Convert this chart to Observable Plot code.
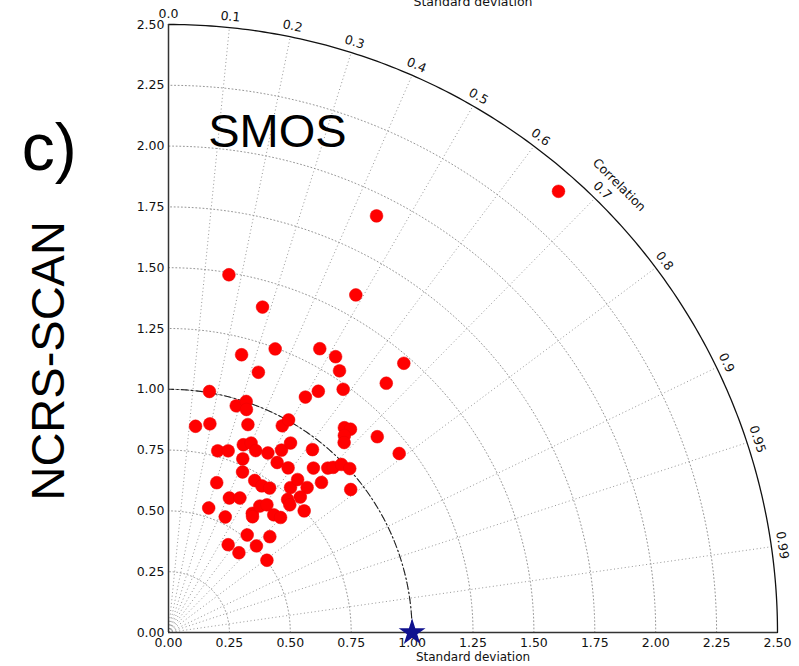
<!DOCTYPE html>
<html>
<head>
<meta charset="utf-8">
<script src="https://cdn.jsdelivr.net/npm/d3@7"></script>
<script src="https://cdn.jsdelivr.net/npm/@observablehq/plot@0.6"></script>
<style>
  html, body { margin: 0; padding: 0; background: #fff; }
  #chart svg { display: block; }
</style>
</head>
<body>
<div id="chart"></div>
<script>
// Model points (x = std*corr, y = std*sqrt(1-corr^2))
const pointX = [1.601,0.854,0.248,0.386,0.769,0.300,0.438,0.621,0.686,0.702,0.966,0.894,0.369,0.168,0.615,0.717,0.562,0.278,0.319,0.320,0.111,0.170,0.326,0.467,0.493,0.722,0.747,0.722,0.721,0.857,0.947,0.202,0.245,0.307,0.339,0.358,0.305,0.408,0.446,0.464,0.501,0.591,0.491,0.595,0.654,0.676,0.710,0.744,0.304,0.198,0.354,0.383,0.415,0.501,0.530,0.569,0.628,0.748,0.250,0.293,0.489,0.498,0.541,0.165,0.233,0.344,0.345,0.375,0.404,0.432,0.460,0.557,0.323,0.416,0.245,0.361,0.289,0.404];
const pointY = [1.814,1.713,1.471,1.338,1.388,1.142,1.166,1.167,1.134,1.076,1.107,1.025,1.070,0.991,0.992,1.000,0.968,0.932,0.950,0.917,0.848,0.858,0.855,0.850,0.874,0.842,0.836,0.810,0.781,0.805,0.736,0.747,0.747,0.772,0.779,0.748,0.714,0.738,0.699,0.750,0.779,0.752,0.677,0.676,0.676,0.679,0.691,0.674,0.660,0.616,0.625,0.603,0.594,0.596,0.629,0.596,0.617,0.588,0.553,0.553,0.547,0.525,0.557,0.512,0.475,0.490,0.476,0.520,0.525,0.484,0.473,0.500,0.401,0.394,0.361,0.356,0.328,0.297];

// Reference point
const refStd = [1.0];

// Tick labels
const sdTicks = [0,0.25,0.5,0.75,1.0,1.25,1.5,1.75,2.0,2.25,2.5];
const corrTicks = [0,0.1,0.2,0.3,0.4,0.5,0.6,0.7,0.8,0.9,0.95,0.99];
const corrTickLabels = ["0.0","0.1","0.2","0.3","0.4","0.5","0.6","0.7","0.8","0.9","0.95","0.99"];
const gridRadii = [0.25,0.5,0.75,1.0,1.25,1.5,1.75,2.0,2.25];
const maxStd = 2.5;

const points = pointX.map((x, i) => ({x, y: pointY[i]}));

// arc geometry helpers
const angles = d3.range(0, 90.5, 0.5).map(a => a * Math.PI / 180);
const arcPts = (radii) => radii.flatMap(r => angles.map(a => ({r, x: r * Math.cos(a), y: r * Math.sin(a)})));
const gridArcs = arcPts(gridRadii);
const outerArc = arcPts([maxStd]);
const refArc = arcPts(refStd);

const radial = corrTicks.filter(c => c > 0).map(c => ({c, x2: maxStd * c, y2: maxStd * Math.sqrt(1 - c * c)}));
const labelR = 2.545;
const corrLabels = corrTicks.map((c, i) => ({
  text: corrTickLabels[i],
  x: labelR * c,
  y: labelR * Math.sqrt(1 - c * c),
  rot: 90 - Math.acos(c) * 180 / Math.PI
}));

const gridStyle = {stroke: "#8a8a8a", strokeWidth: 0.9, strokeDasharray: "1,2.6"};

const chart = Plot.plot({
  width: 799,
  height: 666,
  marginLeft: 168,
  marginRight: 22,
  marginTop: 24,
  marginBottom: 34,
  style: {fontFamily: "DejaVu Sans, sans-serif", fontSize: "12px", color: "#111", background: "#fff", overflow: "hidden"},
  x: {domain: [0, maxStd]},
  y: {domain: [0, maxStd]},
  marks: [
    // grid arcs (std dev)
    Plot.line(gridArcs, {x: "x", y: "y", z: "r", ...gridStyle}),
    // radial correlation lines
    Plot.link(radial, {x1: 0, y1: 0, x2: "x2", y2: "y2", ...gridStyle}),
    // reference std dev arc
    Plot.line(refArc, {x: "x", y: "y", z: "r", stroke: "#222", strokeWidth: 1.1, strokeDasharray: "7,3,1.5,3"}),
    // outer arc and axes lines
    Plot.line(outerArc, {x: "x", y: "y", z: "r", stroke: "#111", strokeWidth: 1.3}),
    Plot.ruleY([0], {x1: 0, x2: maxStd, stroke: "#333", strokeWidth: 1.5}),
    Plot.ruleX([0], {y1: 0, y2: maxStd, stroke: "#333", strokeWidth: 1.5}),
    Plot.axisX({ticks: sdTicks, tickFormat: d3.format(".2f"), tickSize: 0, tickPadding: 6, label: null, fontSize: 12.5}),
    Plot.axisY({ticks: sdTicks, tickFormat: d3.format(".2f"), tickSize: 0, tickPadding: 4, label: null, fontSize: 12.5}),
    // correlation tick labels
    Plot.text(corrLabels, {x: "x", y: "y", text: "text", rotate: "rot", fontSize: 12.5, fill: "#111"}),
    Plot.text(["Correlation"], {x: 1.85, y: 1.84, rotate: 45, fontSize: 12.5, fill: "#111"}),
    // axis titles
    Plot.text(["Standard deviation"], {frameAnchor: "bottom", dy: 28, fontSize: 12, fill: "#111"}),
    Plot.text(["Standard deviation"], {frameAnchor: "top", dy: -27, fontSize: 12.5, fill: "#111"}),
    // data points
    Plot.dot(points, {x: "x", y: "y", r: 6.4, fill: "#f00", stroke: "#e00", strokeWidth: 0.5}),
    // reference point
    Plot.dot(refStd, {x: d => d, y: 0, symbol: "star", r: 7, fill: "#10128f", stroke: "#10128f"}),
    // annotations
    Plot.text(["SMOS"], {x: 0.447, y: 2.06, fontSize: 47, fontFamily: "Liberation Sans, Arial, sans-serif", fill: "#000"}),
    Plot.text(["c)"], {x: -0.49, y: 1.99, fontSize: 66, fontFamily: "Liberation Sans, Arial, sans-serif", fill: "#000"}),
    Plot.text(["NCRS-SCAN"], {x: -0.49, y: 1.117, rotate: -90, fontSize: 47, fontFamily: "Liberation Sans, Arial, sans-serif", fill: "#000"})
  ]
});
document.getElementById("chart").appendChild(chart);
</script>
</body>
</html>
